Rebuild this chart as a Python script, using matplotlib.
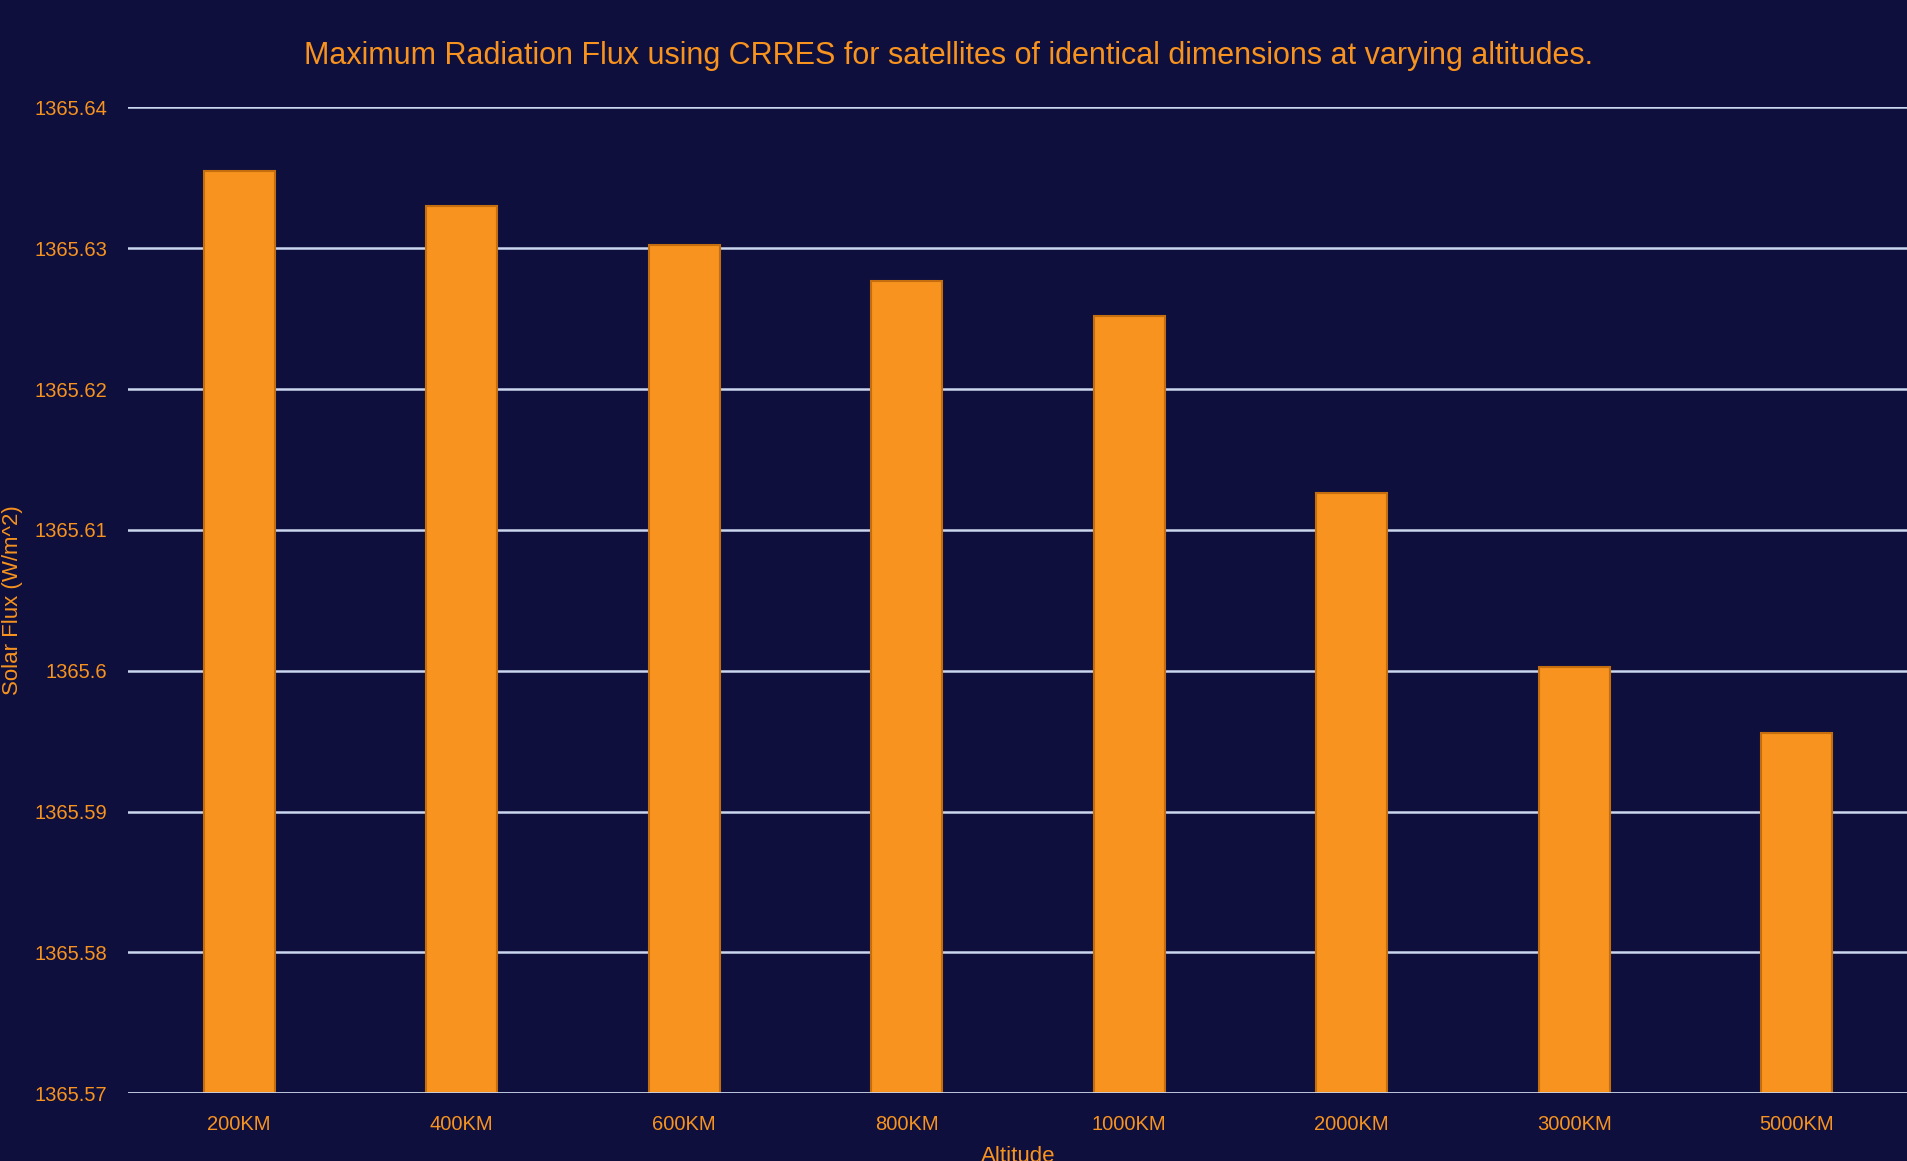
import numpy as np
import matplotlib
matplotlib.use("Agg")
import matplotlib.pyplot as plt

# Data
altitudes = ['200KM', '400KM', '600KM', '800KM', '1000KM', '2000KM', '3000KM', '5000KM']
flux = [1365.6355, 1365.6330, 1365.6302, 1365.6277, 1365.6252, 1365.6126, 1365.6003, 1365.5956]
yticks = [1365.57, 1365.58, 1365.59, 1365.60, 1365.61, 1365.62, 1365.63, 1365.64]
ytick_labels = ['1365.57', '1365.58', '1365.59', '1365.6', '1365.61', '1365.62', '1365.63', '1365.64']

bg = '#0e0f3d'
orange = '#f7931e'
grid_col = '#cbd7ee'

plt.rcParams['font.family'] = ['Liberation Sans', 'DejaVu Sans']

W, H = 1908, 1161
fig = plt.figure(figsize=(W / 100, H / 100), dpi=100, facecolor=bg)
left, right, top, bottom = 128, 1908, 107.3, 1093.3
ax = fig.add_axes([left / W, 1 - bottom / H, (right - left) / W, (bottom - top) / H])
ax.set_facecolor(bg)

x = np.arange(len(altitudes))
ax.bar(x, np.array(flux) - yticks[0], bottom=yticks[0], width=0.32,
       color=orange, edgecolor='#c46e10', linewidth=1.5, zorder=2)

ax.set_xlim(-0.5, len(altitudes) - 0.5)
ax.set_ylim(yticks[0], yticks[-1])
ax.set_yticks(yticks)
ax.set_yticklabels(ytick_labels)
ax.set_xticks(x)
ax.set_xticklabels(altitudes)

# gridlines sit behind the bars, the base line sits on top
for y in yticks[1:]:
    ax.axhline(y, color=grid_col, linewidth=1.8, zorder=1)
ax.axhline(yticks[0], color=grid_col, linewidth=2.0, zorder=3)

for s in ax.spines.values():
    s.set_visible(False)
ax.tick_params(axis='both', length=0, labelcolor=orange, labelsize=14.5)
ax.tick_params(axis='y', pad=15)
ax.tick_params(axis='x', pad=15.5)

fig.text(949 / W, 1 - 56 / H, 'Maximum Radiation Flux using CRRES for satellites of identical dimensions at varying altitudes.',
         color=orange, fontsize=22, ha='center', va='center')
fig.text(13 / W, 1 - 600 / H, 'Solar Flux (W/m^2)', color=orange, fontsize=16,
         rotation=90, ha='center', va='center')
fig.text(1018 / W, 1 - 1146 / H, 'Altitude', color=orange, fontsize=16, ha='center', va='top')

fig.savefig('out.png', dpi=100, facecolor=bg)
